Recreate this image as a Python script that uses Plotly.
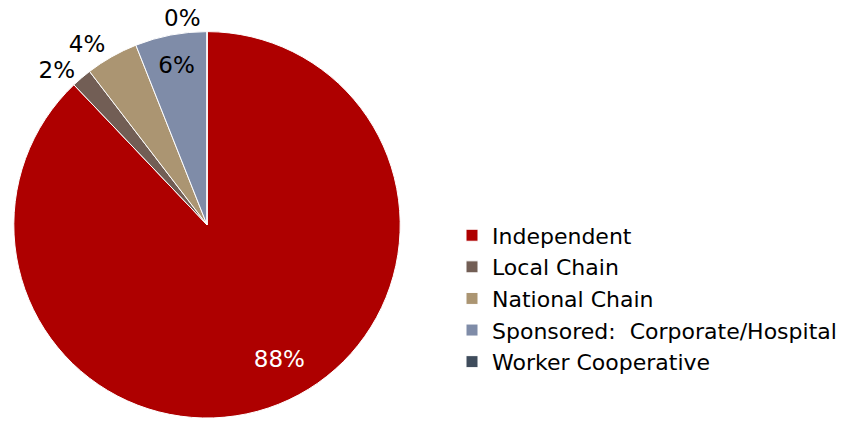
import plotly.graph_objects as go

categories = ["Independent", "Local Chain", "National Chain",
              "Sponsored:  Corporate/Hospital", "Worker Cooperative"]
shares = [87.9, 1.7, 4.4, 6.0, 0.0]
colors = ["#AE0000", "#725E55", "#AB9572", "#7F8CA8", "#3F4C5C"]
label_pos = ["inside", "outside", "outside", "inside", "outside"]
label_colors = ["white", "black", "black", "black", "black"]

W, H = 864, 423
cx, r = 207, 195.5
FONT = "DejaVu Sans"

# the large slice carries its label further out toward the rim
pad = "&nbsp;"
big_label = (pad + "<br>") * 3 + pad * 10 + "%{percent:.0%}"
templates = [big_label] + ["%{percent:.0%}"] * (len(categories) - 1)

fig = go.Figure(go.Pie(
    labels=categories,
    values=shares,
    sort=False,
    direction="clockwise",
    rotation=0,
    marker=dict(colors=colors, line=dict(color="white", width=1)),
    texttemplate=templates,
    textposition=label_pos,
    insidetextorientation="horizontal",
    textfont=dict(color=label_colors, size=23, family=FONT),
    outsidetextfont=dict(color="black", size=23, family=FONT),
    domain=dict(x=[(cx - r) / W, (cx + r) / W], y=[0, 2 * r / H]),
    showlegend=True,
))

fig.update_layout(
    width=W, height=H,
    margin=dict(l=0, r=0, t=0, b=0),
    paper_bgcolor="white",
    font=dict(family=FONT, size=22, color="black"),
    legend=dict(x=452 / W, y=1 - 217 / H, xanchor="left", yanchor="top",
                font=dict(size=22, family=FONT, color="black"),
                itemwidth=30, tracegroupgap=0),
)

# outside percentage labels sit next to their slices without leader lines
hide_leaders = ("document.querySelectorAll('path.textline')"
                ".forEach(function (p) { p.style.display = 'none'; });")

fig.write_html("out.html", post_script=hide_leaders)
